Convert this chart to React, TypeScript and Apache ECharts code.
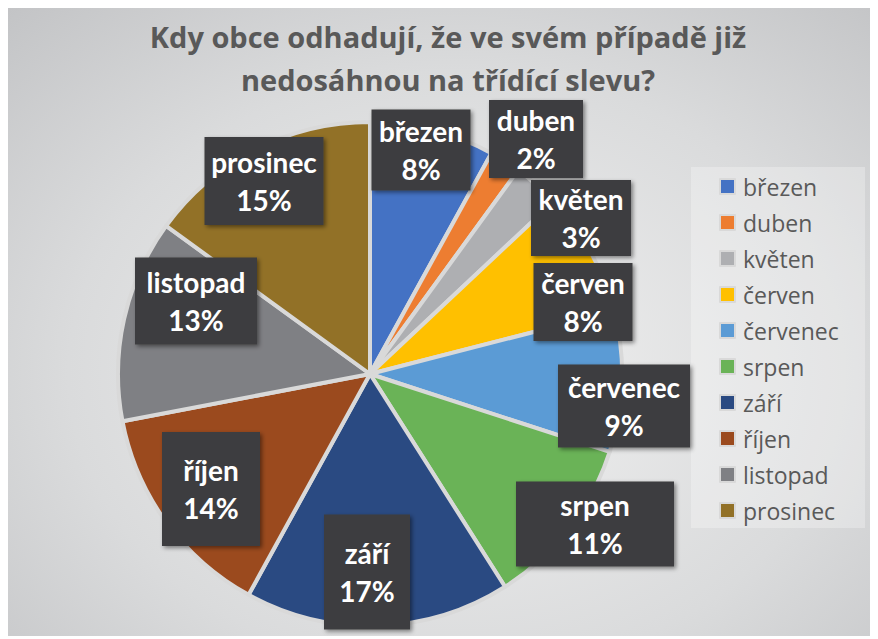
import React, { useEffect, useRef } from "react";
import * as echarts from "echarts";

const TITLE = "Kdy obce odhadují, že ve svém případě již\nnedosáhnou na třídící slevu?";
const categories = ["březen", "duben", "květen", "červen", "červenec", "srpen", "září", "říjen", "listopad", "prosinec"];
const shares = [8, 2, 3, 8, 9, 11, 17, 14, 13, 15];
const colors = ["#4472C4", "#ED7D31", "#AEAFB2", "#FFC000", "#5B9BD5", "#6AB357", "#2A4A82", "#9B4A1E", "#7F8084", "#927127"];

// layout (not data)
const CX = 362;
const CY = 366;
const RADIUS = 252;
const LINE_H = 38;
// label box centre offsets from pie centre, and box sizes [w, h]
const labelOffsets: [number, number][] = [
  [51, -224], [166, -235], [211, -156], [213, -72], [254, 32],
  [225, 150], [-3, 198], [-159, 115], [-174, -73], [-106, -193],
];
const labelBoxes: [number, number][] = [
  [99, 81], [94, 78], [100, 75], [99, 78], [132, 83],
  [158, 85], [86, 115], [98, 114], [122, 87], [119, 88],
];

export default function App() {
  const ref = useRef<HTMLDivElement>(null);
  useEffect(() => {
    if (!ref.current) return;
    const chart = echarts.init(ref.current, null, { renderer: "svg" });
    const data = categories.map((name, i) => {
      const [w, h] = labelBoxes[i];
      const pv = Math.max(0, (h - 2 * LINE_H) / 2);
      return {
        name,
        value: shares[i],
        itemStyle: { color: colors[i] },
        label: { width: w, padding: [pv, 0, pv, 0] },
      };
    });
    chart.setOption({
      animation: false,
      backgroundColor: "transparent",
      title: {
        text: TITLE,
        left: 435,
        textAlign: "center",
        top: 2,
        textStyle: {
          fontFamily: "Open Sans",
          fontWeight: "bold",
          fontSize: 29,
          lineHeight: 43,
          color: "#595959",
        },
      },
      graphic: [
        {
          type: "rect",
          shape: { x: 683, y: 159, width: 174, height: 361 },
          style: { fill: "rgba(255,255,255,0.28)" },
          silent: true,
          z: -1,
        },
      ],
      legend: {
        orient: "vertical",
        left: 706,
        top: 162,
        itemWidth: 15,
        itemHeight: 15,
        itemGap: 13,
        icon: "rect",
        data: categories,
        textStyle: {
          fontFamily: "Open Sans",
          fontSize: 23,
          color: "#595959",
          padding: [0, 0, 0, 3],
        },
      },
      series: [
        {
          type: "pie",
          center: [CX, CY],
          radius: RADIUS,
          startAngle: 90,
          clockwise: true,
          avoidLabelOverlap: false,
          itemStyle: { borderColor: "#D9D9D9", borderWidth: 4 },
          emphasis: { disabled: true },
          labelLine: { show: false },
          label: {
            show: true,
            position: "inside",
            formatter: "{b}\n{d}%",
            fontFamily: "Lato",
            fontWeight: "bold",
            fontSize: 28,
            lineHeight: LINE_H,
            color: "#FFFFFF",
            align: "center",
            backgroundColor: "#3C3C3F",
            shadowColor: "rgba(0,0,0,0.45)",
            shadowBlur: 4,
            shadowOffsetX: 2,
            shadowOffsetY: 2,
          },
          labelLayout: (params: any) => {
            const i = params.dataIndex;
            return {
              x: CX + labelOffsets[i][0],
              y: CY + labelOffsets[i][1],
              align: "center",
              verticalAlign: "middle",
            };
          },
          data,
        },
      ],
    });
    return () => chart.dispose();
  }, []);
  return (
    <div
      ref={ref}
      style={{
        width: 862,
        height: 628,
        background: "radial-gradient(ellipse 75% 80% at 52% 58%, #F1F1F1 0%, #DADBDC 60%, #C3C4C6 100%)",
      }}
    />
  );
}
